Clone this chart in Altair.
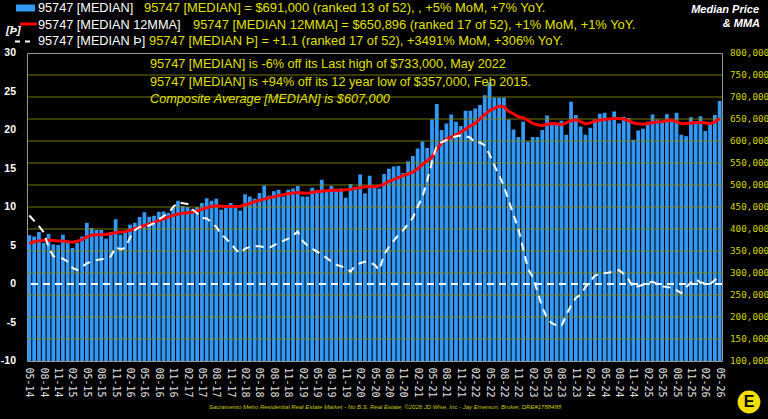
import altair as alt
import pandas as pd

# ---- categories (monthly, 05-14 .. 05-26) ----
months = []
for k in range(145):
    m = (4 + k) % 12 + 1
    yy = 14 + (4 + k) // 12
    months.append(f"{m:02d}-{yy:02d}")

# ---- series values ----
median_k = [386, 383, 393, 369, 389, 365, 364, 387, 368, 357, 368, 383, 414, 402, 398, 398,
            378, 393, 422, 387, 393, 410, 414, 427, 438, 428, 430, 439, 440, 437, 449, 464,
            452, 450, 445, 450, 459, 470, 464, 469, 444, 449, 459, 449, 442, 479, 474, 469,
            482, 499, 476, 486, 489, 474, 489, 492, 498, 474, 474, 494, 489, 512, 489, 498,
            486, 492, 471, 502, 494, 524, 481, 521, 496, 492, 525, 537, 542, 543, 527, 554,
            566, 583, 599, 584, 649, 684, 625, 640, 660, 644, 634, 669, 669, 674, 682, 704,
            733, 699, 699, 699, 649, 626, 609, 644, 599, 609, 609, 625, 658, 640, 639, 646,
            614, 689, 659, 633, 614, 630, 649, 662, 664, 649, 667, 640, 655, 652, 603, 624,
            628, 644, 660, 649, 644, 661, 649, 664, 614, 611, 654, 640, 656, 623, 640, 659,
            691]

mma_k = [367, 371, 373, 374, 375, 374, 373, 373, 371, 370, 372, 376, 382, 386, 387, 387,
         388, 389, 392, 393, 394, 397, 401, 404, 408, 411, 415, 419, 423, 427, 431, 434,
         436, 437, 438, 441, 445, 448, 451, 453, 452, 451, 451, 451, 452, 455, 458, 462,
         465, 468, 471, 473, 476, 478, 480, 482, 483, 482, 481, 483, 485, 486, 487, 488,
         488, 488, 489, 490, 493, 494, 496, 496, 496, 498, 502, 508, 512, 517, 522, 525,
         529, 537, 547, 555, 563, 582, 596, 604, 609, 614, 620, 627, 634, 640, 650, 660,
         669, 674, 679, 678, 667, 662, 655, 653, 647, 640, 637, 635, 638, 640, 639, 637,
         641, 646, 648, 644, 639, 641, 645, 647, 649, 650, 651, 651, 650, 646, 641, 639,
         638, 640, 642, 643, 644, 646, 647, 644, 639, 640, 641, 642, 642, 641, 640, 643,
         651]

thorn = [8.9, 8.2, 7.5, 6.7, 4.8, 3.6, 3.4, 3.3, 2.9, 2.1, 1.8, 2.2, 2.7, 2.9, 3.1, 3.2,
         3.3, 3.6, 4.8, 4.5, 4.7, 6.0, 7.0, 7.4, 7.5, 7.6, 7.9, 8.4, 8.8, 9.2, 10.0, 10.6,
         10.5, 10.4, 9.7, 9.2, 8.6, 8.5, 8.0, 7.4, 6.5, 5.9, 5.3, 4.5, 4.0, 4.6, 4.8, 4.9,
         4.9, 4.8, 4.7, 5.0, 5.4, 5.6, 5.9, 6.3, 6.8, 5.6, 5.0, 4.6, 4.2, 3.8, 3.4, 2.9,
         2.5, 2.3, 2.1, 1.6, 2.4, 2.7, 2.9, 2.8, 2.5, 1.8, 3.8, 4.8, 5.6, 6.4, 7.0, 7.8,
         8.6, 10.0, 11.3, 13.4, 15.9, 18.0, 18.4, 18.7, 18.9, 19.2, 19.3, 19.2, 19.0, 18.3, 18.4, 18.0,
         16.8, 15.4, 14.1, 12.7, 10.8, 9.0, 7.2, 4.6, 2.0, 0.9, -1.0, -3.0, -4.5, -5.1, -5.4, -5.5,
         -4.0, -2.8, -1.8, -1.4, -0.4, 0.4, 1.1, 1.3, 1.4, 1.5, 1.7, 1.8, 1.3, 0.6, -0.5, -0.3,
         -0.1, 0.2, 0.3, 0.0, -0.3, -0.4, -0.5, -0.8, -1.2, -0.4, 0.2, 0.6, 0.2, 0.1, 0.0, 0.5,
         1.1]

right_ticks = [100000, 150000, 200000, 250000, 300000, 350000, 400000, 450000,
               500000, 550000, 600000, 650000, 700000, 750000, 800000]
right_labels = [f"{v:,}" for v in right_ticks]
grid_vals = right_ticks[1:-1]
left_ticks = [-10, -5, 0, 5, 10, 15, 20, 25, 30]
left_labels = [str(v) for v in left_ticks]

legend_labels = ["95747 [MEDIAN]", "95747 [MEDIAN 12MMA]", "95747 [MEDIAN \u00de]"]
legend_stats = [
    "95747 [MEDIAN] = $691,000 (ranked 13 of 52), , +5% MoM, +7% YoY.",
    "95747 [MEDIAN 12MMA] = $650,896 (ranked 17 of 52),  +1% MoM, +1% YoY.",
    "95747 [MEDIAN \u00de] = +1.1 (ranked 17 of 52), +3491% MoM, +306% YoY.",
]
notes = [
    "95747 [MEDIAN] is -6% off its Last high of $733,000, May 2022",
    "95747 [MEDIAN] is +94% off its 12 year low of $357,000, Feb 2015.",
    "Composite Average [MEDIAN] is $607,000",
]
footer = ("Sacramento Metro Residential Real Estate Market - No B.S. Real Estate, "
          "\u00a92026 JD Wise, Inc - Jay Emerson, Broker, DRE#1788488")

df = pd.DataFrame({
    "month": months,
    "median": [v * 1000 for v in median_k],
    "mma": [v * 1000 for v in mma_k],
    "thorn": thorn,
})

YELLOW = "#e0e000"
BLUE = "#3399f7"

base = alt.Chart(df)
x_enc = alt.X("month:N", sort=None,
              scale=alt.Scale(paddingInner=0.22, paddingOuter=0.1),
              axis=alt.Axis(values=months[::3], labelAngle=90, labelFont="DejaVu Sans Mono",
                            labelFontSize=10, labelColor="#e0e0e0", ticks=False, domain=False,
                            labelPadding=6, title=None, labelOverlap=False))

rscale = alt.Scale(domain=[100000, 800000], nice=False, zero=False)
lscale = alt.Scale(domain=[-10, 30], nice=False, zero=False)

bars = base.mark_bar(color=BLUE).encode(
    x=x_enc,
    y=alt.Y("median:Q", scale=rscale, axis=None),
    y2=alt.datum(100000),
)
grid = alt.Chart(pd.DataFrame({"g": grid_vals})).mark_rule(
    color="#8c8c00", strokeWidth=1, opacity=0.85
).encode(y=alt.Y("g:Q", scale=rscale, axis=None))
ma_line = base.mark_line(color="#ff0000", strokeWidth=3).encode(
    x=x_enc, y=alt.Y("mma:Q", scale=rscale, axis=None))
r_labels = alt.Chart(pd.DataFrame({"v": right_ticks, "t": right_labels})).mark_text(
    align="left", baseline="middle", font="DejaVu Sans Mono", fontSize=9.3, color="#d4d400"
).encode(x=alt.value(703), y=alt.Y("v:Q", scale=rscale, axis=None), text="t:N")
right = alt.layer(bars, grid, ma_line, r_labels)

p_line = base.mark_line(color="white", strokeWidth=2, strokeDash=[8, 6]).encode(
    x=x_enc, y=alt.Y("thorn:Q", scale=lscale, axis=None))
zero = alt.Chart(pd.DataFrame({"z": [0]})).mark_rule(
    color="white", strokeWidth=2, strokeDash=[7, 5]
).encode(y=alt.Y("z:Q", scale=lscale, axis=None))
l_labels = alt.Chart(pd.DataFrame({"v": left_ticks, "t": left_labels})).mark_text(
    align="right", baseline="middle", font="Liberation Sans", fontSize=10.5,
    fontWeight="bold", color="white"
).encode(x=alt.value(-11), y=alt.Y("v:Q", scale=lscale, axis=None), text="t:N")
left = alt.layer(p_line, zero, l_labels)


def txt(s, x, y, color, size, align="left", style="normal", weight="normal",
        font="Liberation Sans"):
    return alt.Chart(pd.DataFrame({"t": [s]})).mark_text(
        align=align, baseline="middle", color=color, fontSize=size, font=font,
        fontStyle=style, fontWeight=weight
    ).encode(x=alt.value(x), y=alt.value(y), text="t:N")


one = pd.DataFrame({"a": [0]})
texts = [
    # legend swatches
    alt.Chart(one).mark_rule(color=BLUE, strokeWidth=7).encode(
        x=alt.value(-11), x2=alt.value(8), y=alt.value(-45)),
    alt.Chart(one).mark_rule(color="#ff0000", strokeWidth=3).encode(
        x=alt.value(-7), x2=alt.value(10), y=alt.value(-29)),
    alt.Chart(one).mark_rule(color="white", strokeWidth=2, strokeDash=[5, 5]).encode(
        x=alt.value(-12), x2=alt.value(4), y=alt.value(-11.5)),
    txt(legend_labels[0], 11, -45, "white", 12.7),
    txt(legend_labels[1], 11, -28.5, "white", 12.7),
    txt(legend_labels[2], 11, -12, "white", 12.7),
    txt(legend_stats[0], 117, -45, YELLOW, 12.9),
    txt(legend_stats[1], 166, -28.5, YELLOW, 12.9),
    txt(legend_stats[2], 122, -12, YELLOW, 12.9),
    txt("[\u00de]", -21, -22, "white", 11, style="italic", weight="bold"),
    txt("Median Price", 732, -43, "white", 11, align="right", style="italic", weight="bold"),
    txt("& MMA", 733, -29, "white", 11, align="right", style="italic", weight="bold"),
    txt(notes[0], 123, 11, YELLOW, 12.7),
    txt(notes[1], 123, 28.7, YELLOW, 12.7),
    txt(notes[2], 123, 46.3, YELLOW, 12.7, style="italic"),
    txt(footer, 358, 354, "#c8c800", 6, align="center", style="italic"),
    alt.Chart(one).mark_circle(color="#f2dd00", size=520, opacity=1).encode(
        x=alt.value(722), y=alt.value(349)),
    txt("E", 722, 349, "black", 16, align="center", weight="bold"),
]

chart = alt.layer(right, left, *texts).resolve_scale(y="independent").properties(
    width=695, height=308,
    padding={"left": 27, "top": 53, "right": 46, "bottom": 58},
    autosize=alt.AutoSizeParams(type="none"),
).configure(background="black").configure_view(stroke="#9a9a9a", strokeWidth=1)

chart.save("out.html", embed_options={"renderer": "svg", "actions": False})
